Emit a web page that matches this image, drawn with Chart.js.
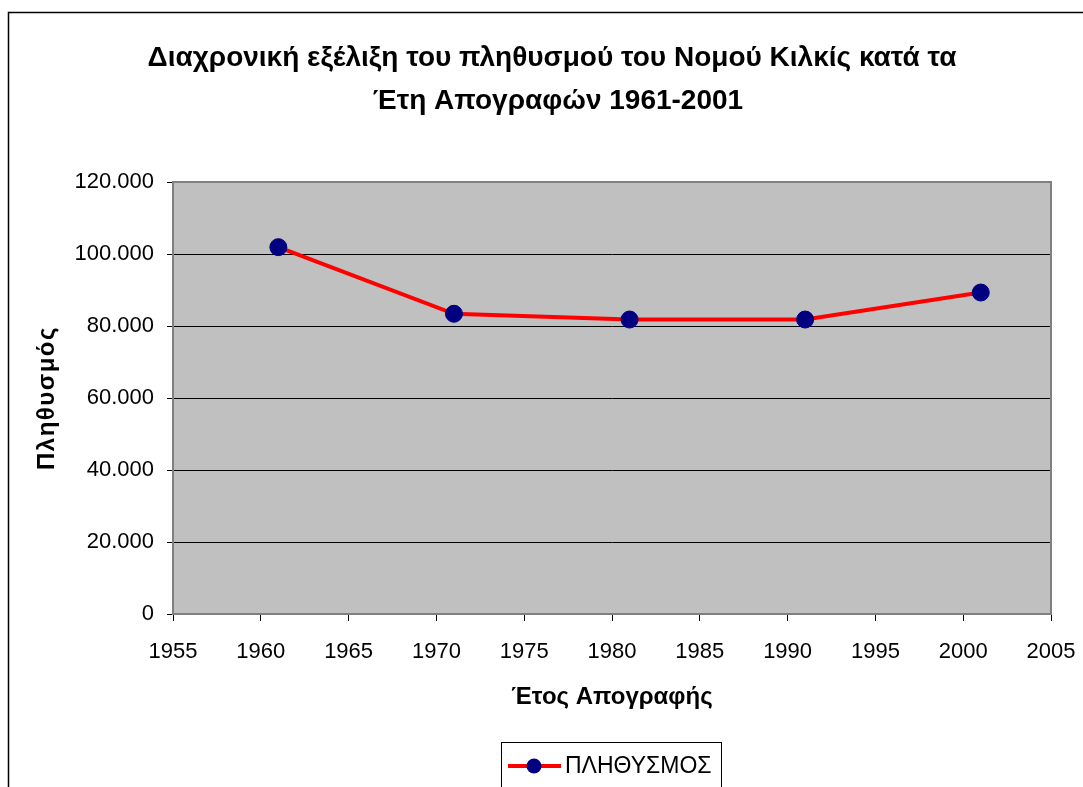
<!DOCTYPE html>
<html>
<head>
<meta charset="utf-8">
<script src="https://cdn.jsdelivr.net/npm/chart.js@4"></script>
<style>
html,body{margin:0;padding:0;background:#fff;}
#wrap{position:relative;width:1083px;height:787px;}
</style>
</head>
<body>
<div id="wrap"><canvas id="c" width="1083" height="787"></canvas></div>
<script>
const years = [1961, 1971, 1981, 1991, 2001];
const population = [101900, 83400, 81800, 81800, 89300];
const seriesName = 'ΠΛΗΘΥΣΜΟΣ';
const titleLines = ['Διαχρονική εξέλιξη του πληθυσμού του Νομού Κιλκίς κατά τα', 'Έτη Απογραφών 1961-2001'];
const xTitle = 'Έτος Απογραφής';
const yTitle = 'Πληθυσμός';

const FONT = '"Liberation Sans", Arial, sans-serif';
const fmt = v => String(v).replace(/\B(?=(\d{3})+(?!\d))/g, '.');

const deco = {
  id: 'deco',
  beforeDraw(chart) {
    const ctx = chart.ctx, a = chart.chartArea;
    ctx.save();
    ctx.fillStyle = '#fff';
    ctx.fillRect(0, 0, chart.width, chart.height);
    ctx.strokeStyle = '#000';
    ctx.lineWidth = 1.5;
    ctx.beginPath();
    ctx.moveTo(8.5, chart.height + 2);
    ctx.lineTo(8.5, 12.5);
    ctx.lineTo(chart.width + 2, 12.5);
    ctx.stroke();
    ctx.fillStyle = '#C0C0C0';
    ctx.fillRect(a.left, a.top, a.right - a.left, a.bottom - a.top);
    ctx.restore();
  },
  beforeDatasetsDraw(chart) {
    const ctx = chart.ctx, a = chart.chartArea;
    ctx.save();
    ctx.strokeStyle = '#808080';
    ctx.lineWidth = 2;
    ctx.strokeRect(a.left, a.top, a.right - a.left, a.bottom - a.top);
    ctx.restore();
  },
  afterDraw(chart) {
    const ctx = chart.ctx, a = chart.chartArea;
    ctx.save();
    ctx.fillStyle = '#000';
    ctx.textAlign = 'center';
    ctx.textBaseline = 'middle';
    ctx.font = 'bold 28px ' + FONT;
    ctx.fillText(titleLines[0], 552, 58);
    ctx.fillText(titleLines[1], 558, 101);
    ctx.font = 'bold 24px ' + FONT;
    ctx.fillText(xTitle, (a.left + a.right) / 2, 697);
    ctx.save();
    ctx.translate(47, (a.top + a.bottom) / 2);
    ctx.rotate(-Math.PI / 2);
    try { ctx.letterSpacing = '1.5px'; } catch (e) {}
    ctx.fillText(yTitle, 0, 0);
    ctx.restore();
    ctx.strokeStyle = '#000';
    ctx.lineWidth = 1;
    ctx.strokeRect(501.5, 742.5, 220, 60);
    ctx.strokeStyle = '#FF0000';
    ctx.lineWidth = 4;
    ctx.beginPath();
    ctx.moveTo(508, 766);
    ctx.lineTo(561, 766);
    ctx.stroke();
    ctx.fillStyle = '#000080';
    ctx.beginPath();
    ctx.arc(534, 766, 7.5, 0, Math.PI * 2);
    ctx.fill();
    ctx.fillStyle = '#000';
    ctx.textAlign = 'left';
    ctx.font = '23px ' + FONT;
    ctx.fillText(seriesName, 565, 767);
    ctx.restore();
  }
};

new Chart(document.getElementById('c'), {
  type: 'line',
  data: {
    datasets: [{
      label: seriesName,
      data: years.map((y, i) => ({ x: y, y: population[i] })),
      borderColor: '#FF0000',
      borderWidth: 4,
      tension: 0,
      pointRadius: 8.5,
      pointBackgroundColor: '#000080',
      pointBorderColor: '#000080',
      pointBorderWidth: 1,
      clip: false
    }]
  },
  options: {
    responsive: false,
    animation: false,
    devicePixelRatio: 1,
    layout: { padding: { top: 182, right: 32, left: 0, bottom: 0 } },
    plugins: { legend: { display: false }, title: { display: false }, tooltip: { enabled: false } },
    scales: {
      x: {
        type: 'linear',
        min: 1955, max: 2005,
        afterFit(s) { s.height = 173; s.paddingLeft = 0; s.paddingRight = 0; },
        ticks: { stepSize: 5, padding: 18, color: '#000', font: { family: FONT, size: 22 }, callback: v => String(v), maxRotation: 0, autoSkip: false },
        grid: { drawOnChartArea: false, drawTicks: true, tickLength: 7, color: '#000', lineWidth: 1 },
        border: { display: true, color: '#808080', width: 2 }
      },
      y: {
        min: 0, max: 120000,
        afterFit(s) { s.width = 173; s.paddingTop = 0; s.paddingBottom = 0; },
        ticks: { stepSize: 20000, padding: 13, color: '#000', font: { family: FONT, size: 22 }, callback: v => fmt(v) },
        grid: { color: '#000', lineWidth: 1, drawTicks: true, tickLength: 6 },
        border: { display: true, color: '#808080', width: 2 }
      }
    }
  },
  plugins: [deco]
});
</script>
</body>
</html>
